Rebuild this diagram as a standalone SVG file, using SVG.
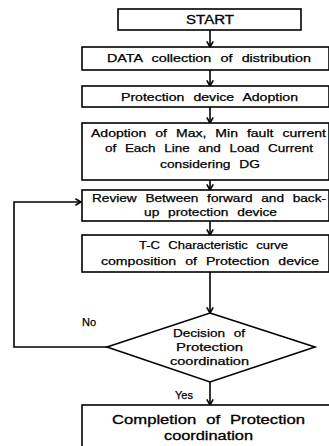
<svg xmlns="http://www.w3.org/2000/svg" width="329" height="446" viewBox="0 0 329 446">
<defs>
<marker id="arr" viewBox="0 0 10 10" refX="9" refY="5" markerWidth="8" markerHeight="8" markerUnits="userSpaceOnUse" orient="auto">
<path d="M2,1 L9,5 L2,9" fill="none" stroke="#000" stroke-width="2"/>
</marker>
</defs>
<style>
.box{fill:#fff;stroke:#000;stroke-width:1.6}
.t{font-family:"Liberation Sans",Arial,sans-serif;font-size:11px;fill:#000;text-anchor:middle;stroke:#000;stroke-width:0.25;word-spacing:4px}
.tl{font-family:"Liberation Sans",Arial,sans-serif;font-size:12.5px;fill:#000;text-anchor:middle;stroke:#000;stroke-width:0.3;word-spacing:4px}
.c{fill:none;stroke:#000;stroke-width:1.6}
</style>
<rect width="329" height="446" fill="#fff"/>
<g id="connectors">
<line class="c" x1="210" y1="30" x2="210" y2="47" marker-end="url(#arr)"/>
<line class="c" x1="210" y1="70" x2="210" y2="86" marker-end="url(#arr)"/>
<line class="c" x1="210" y1="107" x2="210" y2="123" marker-end="url(#arr)"/>
<line class="c" x1="210" y1="180" x2="210" y2="190" marker-end="url(#arr)"/>
<line class="c" x1="210" y1="221" x2="210" y2="235" marker-end="url(#arr)"/>
<line class="c" x1="210" y1="272" x2="210" y2="313" marker-end="url(#arr)"/>
<line class="c" x1="210" y1="382" x2="210" y2="405" marker-end="url(#arr)"/>
<polyline class="c" points="107,347 14,347 14,202 81,202" marker-end="url(#arr)"/>
<text class="t" x="89" y="326">No</text>
<text class="t" x="184" y="399">Yes</text>
</g>
<g id="start">
<rect class="box" x="118" y="9" width="183" height="21"/>
<text class="tl" x="210" y="24" textLength="48" lengthAdjust="spacingAndGlyphs">START</text>
</g>
<g id="data">
<rect class="box" x="82" y="47" width="247" height="23"/>
<text class="t" x="209" y="62" textLength="204" lengthAdjust="spacingAndGlyphs">DATA collection of distribution</text>
</g>
<g id="adoption">
<rect class="box" x="82" y="86" width="247" height="21"/>
<text class="t" x="209.5" y="101" textLength="177" lengthAdjust="spacingAndGlyphs">Protection device Adoption</text>
</g>
<g id="fault">
<rect class="box" x="82" y="123" width="247" height="57"/>
<text class="t" x="208.5" y="137" textLength="235" lengthAdjust="spacingAndGlyphs">Adoption of Max, Min fault current</text>
<text class="t" x="209" y="152" textLength="208" lengthAdjust="spacingAndGlyphs">of Each Line and Load Current</text>
<text class="t" x="210" y="168" textLength="100" lengthAdjust="spacingAndGlyphs">considering DG</text>
</g>
<g id="review">
<rect class="box" x="82" y="190" width="247" height="31"/>
<text class="t" x="209" y="202" textLength="234" lengthAdjust="spacingAndGlyphs">Review Between forward and back-</text>
<text class="t" x="210.5" y="216" textLength="133" lengthAdjust="spacingAndGlyphs">up protection device</text>
</g>
<g id="tc">
<rect class="box" x="82" y="235" width="247" height="37"/>
<text class="t" x="213.5" y="249" textLength="149" lengthAdjust="spacingAndGlyphs">T-C Characteristic curve</text>
<text class="t" x="210" y="265" textLength="218" lengthAdjust="spacingAndGlyphs">composition of Protection device</text>
</g>
<g id="decision">
<polygon class="box" points="210,313 315,347 210,382 107,347"/>
<text class="t" x="209" y="337" textLength="72" lengthAdjust="spacingAndGlyphs">Decision of</text>
<text class="t" x="209.5" y="351" textLength="67" lengthAdjust="spacingAndGlyphs">Protection</text>
<text class="t" x="209.5" y="365" textLength="79" lengthAdjust="spacingAndGlyphs">coordination</text>
</g>
<g id="completion">
<rect class="box" x="82" y="405" width="250" height="45"/>
<text class="tl" x="208.5" y="424" textLength="193" lengthAdjust="spacingAndGlyphs">Completion of Protection</text>
<text class="tl" x="208.5" y="440" textLength="89" lengthAdjust="spacingAndGlyphs">coordination</text>
</g>
</svg>
